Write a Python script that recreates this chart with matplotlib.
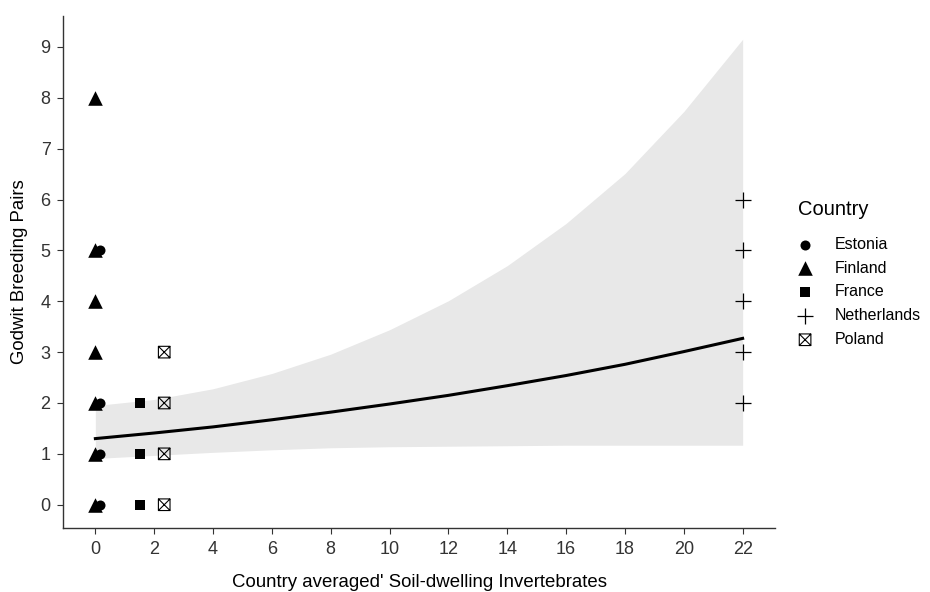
import numpy as np
import matplotlib
matplotlib.use("Agg")
import matplotlib.pyplot as plt
from matplotlib.path import Path

plt.rcParams['font.family'] = ['Liberation Sans', 'DejaVu Sans']

# points per country (x = soil invertebrates, y = breeding pairs)
estonia_x = [0.15, 0.15, 0.15, 0.15]
estonia_y = [0, 1, 2, 5]
finland_x = [0.0, 0.0, 0.0, 0.0, 0.0, 0.0, 0.0]
finland_y = [0, 1, 2, 3, 4, 5, 8]
france_x = [1.53, 1.53, 1.53]
france_y = [0, 1, 2]
netherlands_x = [22, 22, 22, 22, 22]
netherlands_y = [2, 3, 4, 5, 6]
poland_x = [2.34, 2.34, 2.34, 2.34]
poland_y = [0, 1, 2, 3]

# fitted curve and confidence band
fit_x = [0, 2, 4, 6, 8, 10, 12, 14, 16, 18, 20, 22]
fit_y = [1.30, 1.41, 1.53, 1.67, 1.82, 1.98, 2.15, 2.34, 2.54, 2.76, 3.01, 3.27]
band_lo = [0.91, 0.97, 1.03, 1.08, 1.12, 1.14, 1.15, 1.16, 1.17, 1.17, 1.17, 1.17]
band_hi = [1.95, 2.07, 2.28, 2.58, 2.96, 3.44, 4.01, 4.70, 5.53, 6.51, 7.73, 9.15]

x_ticks = list(range(0, 23, 2))
y_ticks = list(range(0, 10))

# square with a cross in it, like R's pch 7
box_x = Path([(-1, -1), (1, -1), (1, 1), (-1, 1), (-1, -1), (-1, -1), (1, 1), (-1, 1), (1, -1)],
             [Path.MOVETO, Path.LINETO, Path.LINETO, Path.LINETO, Path.CLOSEPOLY,
              Path.MOVETO, Path.LINETO, Path.MOVETO, Path.LINETO])

fig = plt.figure(figsize=(9.3, 5.92), dpi=100)
ax = fig.add_axes([63 / 930, 1 - 528 / 592, (775 - 63) / 930, (528 - 16) / 592])

ax.fill_between(fit_x, band_lo, band_hi, color='#e8e8e8', lw=0, zorder=1)
ax.plot(fit_x, fit_y, color='black', lw=2.2, zorder=2)

ax.scatter(estonia_x, estonia_y, marker='o', s=52, color='black', lw=0, zorder=3, label='Estonia')
ax.scatter(finland_x, finland_y, marker='^', s=110, color='black', lw=0, zorder=3, label='Finland')
ax.scatter(france_x, france_y, marker='s', s=60, color='black', lw=0, zorder=3, label='France')
ax.scatter(netherlands_x, netherlands_y, marker='+', s=130, color='black', lw=0.9, zorder=3, label='Netherlands')
ax.scatter(poland_x, poland_y, marker=box_x, s=70, facecolor='none', edgecolor='black', lw=0.8, zorder=3, label='Poland')

ax.set_xlim(-1.1, 23.1)
ax.set_ylim(-0.4575, 9.6075)
ax.set_xticks(x_ticks)
ax.set_yticks(y_ticks)
for s in ['top', 'right']:
    ax.spines[s].set_visible(False)
for s in ['left', 'bottom']:
    ax.spines[s].set_color('#333333')
    ax.spines[s].set_linewidth(1.0)
ax.tick_params(length=4, width=0.8, color='#333333', labelsize=13, labelcolor='#333333', pad=5)

ax.set_xlabel("Country averaged' Soil-dwelling Invertebrates", fontsize=13.4, labelpad=12)
ax.set_ylabel("Godwit Breeding Pairs", fontsize=13.4, labelpad=9)

leg = fig.legend(loc='upper left', bbox_to_anchor=(791.5 / 930, 1 - 193.5 / 592), frameon=False,
                 title='Country', fontsize=11.5, title_fontsize=14.5, handlelength=0.9,
                 handletextpad=1.4, labelspacing=0.55, borderaxespad=0)
leg._legend_box.align = 'left'
leg._legend_box.sep = 12.9  # bigger gap under the title

fig.savefig('out.png', dpi=100)
